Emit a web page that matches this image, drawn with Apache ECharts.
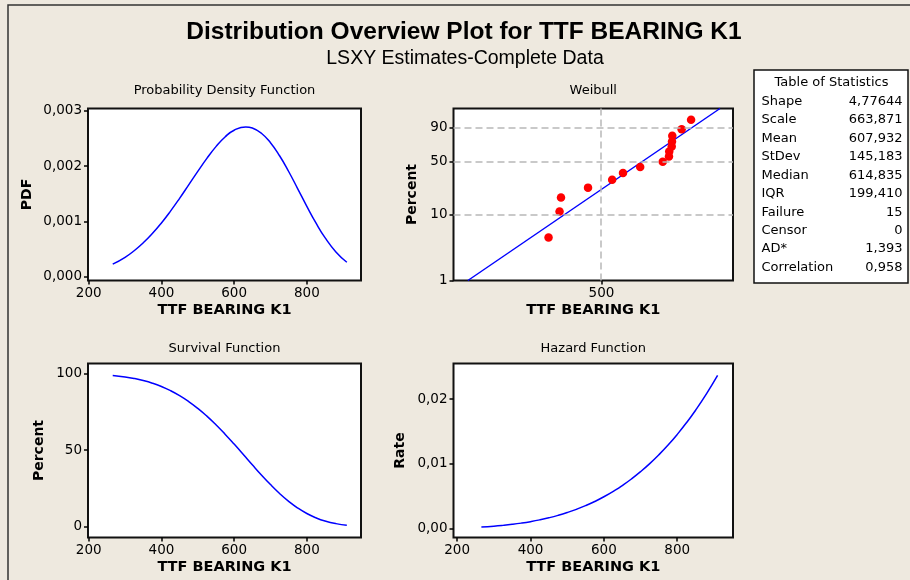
<!DOCTYPE html>
<html><head><meta charset="utf-8">
<script src="https://cdn.jsdelivr.net/npm/echarts@6/dist/echarts.min.js"></script>
<style>html,body{margin:0;padding:0;background:#EEE9DF}#c{width:910px;height:580px}</style>
</head><body><div id="c"></div><script>
// ---- data ----
const timeGrid = [266,300,325,350,375,400,425,450,475,500,525,550,575,600,632,650,675,700,725,750,775,800,825,850,880,910];
const pdfValues = [0.000225,0.000350,0.000469,0.000612,0.000780,0.000972,0.001186,0.001417,0.001660,0.001905,0.002141,0.002353,0.002528,0.002650,0.002710,0.002690,0.002595,0.002424,0.002188,0.001903,0.001590,0.001272,0.000971,0.000705,0.000447,0.000260];
const survivalPercent = [98.74,97.77,96.76,95.41,93.68,91.49,88.80,85.55,81.70,77.24,72.18,66.56,60.45,53.96,45.36,40.49,33.87,27.58,21.81,16.69,12.32,8.74,5.94,3.85,2.14,1.10];
const hazardRate = [0.000228,0.000358,0.000485,0.000641,0.000832,0.001062,0.001335,0.001657,0.002032,0.002467,0.002966,0.003535,0.004181,0.004910,0.005975,0.006643,0.007661,0.008789,0.010034,0.011405,0.012908,0.014552,0.016345,0.018296,0.020857,0.023672];
const failureTimes = [382,404,407,467,528,558,609,683,705,706,715,716,717,752,789];
const failurePercent = [4.55,11.04,17.53,24.03,30.52,37.01,43.51,50.00,56.49,62.99,69.48,75.97,82.47,88.96,95.45];
const fitLineTime = [253.4, 914.0];
const fitLinePercent = [1, 99];
const timeTicks = [200,400,600,800];
const pdfTicks = [0,0.001,0.002,0.003];
const survivalTicks = [0,50,100];
const hazardTicks = [0,0.01,0.02];
const weibullPercentTicks = [1,10,50,90];
const weibullPercentGrid = [10,50,90];
const weibullTimeTicks = [500];
const statLabels = ['Shape','Scale','Mean','StDev','Median','IQR','Failure','Censor','AD*','Correlation'];
const statValues = ['4,77644','663,871','607,932','145,183','614,835','199,410','15','0','1,393','0,958'];
const mainTitle = 'Distribution Overview Plot for TTF BEARING K1';
const subTitle = 'LSXY Estimates-Complete Data';
const panelTitles = ['Probability Density Function','Weibull','Survival Function','Hazard Function'];
const xName = 'TTF BEARING K1';
const yNames = ['PDF','Percent','Percent','Rate'];

// ---- helpers ----
const wb = p => Math.log(-Math.log(1 - p / 100));
const wbInv = v => 100 * (1 - Math.exp(-Math.exp(v)));
const comma = (v, d) => v.toFixed(d).replace('.', ',');
const FONT = 'DejaVu Sans';

const grids = [
  {left: 88, top: 108.5, width: 273, height: 172},
  {left: 453.5, top: 108.5, width: 279.5, height: 172},
  {left: 88, top: 363.5, width: 273, height: 174},
  {left: 453.5, top: 363.5, width: 279.5, height: 174}
];

const labelStyle = (custom, fmt) => ({fontFamily: FONT, fontSize: 13.5, color: '#000', margin: 6, customValues: custom, formatter: fmt, showMinLabel: true, showMaxLabel: true});
const tickStyle = custom => ({show: true, length: 4, inside: false, customValues: custom, lineStyle: {color: '#000', width: 1.5}});
const nameStyle = {fontFamily: FONT, fontWeight: 'bold', fontSize: 14.5, color: '#000'};

function xAxisFor(idx, min, max, ticks, fmt) {
  return {type: 'value', gridIndex: idx, min, max, name: xName, nameLocation: 'middle', nameGap: 22,
    nameTextStyle: nameStyle, axisLine: {show: false, onZero: false}, axisTick: tickStyle(ticks),
    axisLabel: labelStyle(ticks, fmt), splitLine: {show: false}};
}
function yAxisFor(idx, min, max, ticks, fmt, name, gap) {
  return {type: 'value', gridIndex: idx, min, max, name, nameLocation: 'middle', nameGap: gap,
    nameTextStyle: Object.assign({}, nameStyle, {fontSize: 14}), axisLine: {show: false, onZero: false},
    axisTick: tickStyle(ticks), axisLabel: labelStyle(ticks, fmt), splitLine: {show: false}};
}

const blue = {color: '#0000ff', width: 1.5};

const option = {
  backgroundColor: '#EEE9DF',
  animation: false,
  grid: grids.map(g => Object.assign({show: true, backgroundColor: '#fff', borderColor: '#111', borderWidth: 2, containLabel: false}, g)),
  xAxis: [
    xAxisFor(0, 198, 949, timeTicks, v => String(v)),
    xAxisFor(1, Math.log(235.5), Math.log(976.6), weibullTimeTicks.map(Math.log), v => String(Math.round(Math.exp(v)))),
    xAxisFor(2, 198, 949, timeTicks, v => String(v)),
    xAxisFor(3, 190, 952, timeTicks, v => String(v))
  ],
  yAxis: [
    yAxisFor(0, -0.00007, 0.003043, pdfTicks, v => comma(v, 3), yNames[0], 54),
    yAxisFor(1, wb(1), wb(99), weibullPercentTicks.map(wb), v => String(Math.round(wbInv(v))), yNames[1], 34),
    yAxisFor(2, -6.9, 106.5, survivalTicks, v => String(v), yNames[2], 42),
    yAxisFor(3, -0.00139, 0.02552, hazardTicks, v => comma(v, 2), yNames[3], 46)
  ],
  series: [
    {type: 'line', xAxisIndex: 0, yAxisIndex: 0, smooth: true, showSymbol: false, lineStyle: blue,
      data: timeGrid.map((t, i) => [t, pdfValues[i]])},
    {type: 'line', xAxisIndex: 1, yAxisIndex: 1, showSymbol: false, lineStyle: blue, z: 3,
      data: fitLineTime.map((t, i) => [Math.log(t), wb(fitLinePercent[i])]),
      markLine: {silent: true, symbol: 'none', label: {show: false},
        lineStyle: {color: '#b8b8b8', width: 1.5, type: [7, 4]},
        data: weibullTimeTicks.map(t => ({xAxis: Math.log(t)})).concat(weibullPercentGrid.map(p => ({yAxis: wb(p)})))}},
    {type: 'scatter', xAxisIndex: 1, yAxisIndex: 1, symbolSize: 8.5, z: 4, itemStyle: {color: '#ff0000', opacity: 1},
      data: failureTimes.map((t, i) => [Math.log(t), wb(failurePercent[i])])},
    {type: 'line', xAxisIndex: 2, yAxisIndex: 2, smooth: true, showSymbol: false, lineStyle: blue,
      data: timeGrid.map((t, i) => [t, survivalPercent[i]])},
    {type: 'line', xAxisIndex: 3, yAxisIndex: 3, smooth: true, showSymbol: false, lineStyle: blue,
      data: timeGrid.map((t, i) => [t, hazardRate[i]])}
  ],
  graphic: []
};

// frame, titles, panel titles, statistics table
const gfx = option.graphic;
gfx.push({type: 'rect', shape: {x: 8, y: 5, width: 920, height: 600}, style: {fill: 'none', stroke: '#333', lineWidth: 1.5}, silent: true});
gfx.push({type: 'text', x: 464, y: 32, style: {text: mainTitle, fill: '#000', fontFamily: 'Liberation Sans', fontWeight: 'bold', fontSize: 24.5, align: 'center', verticalAlign: 'middle'}});
gfx.push({type: 'text', x: 465, y: 59, style: {text: subTitle, fill: '#000', fontFamily: 'Liberation Sans', fontSize: 19.5, align: 'center', verticalAlign: 'middle'}});
panelTitles.forEach((t, i) => {
  const g = grids[i];
  gfx.push({type: 'text', x: g.left + g.width / 2, y: i < 2 ? 91 : 348.5,
    style: {text: t, fill: '#000', fontFamily: FONT, fontSize: 13, align: 'center', verticalAlign: 'middle'}});
});
gfx.push({type: 'rect', shape: {x: 754, y: 70, width: 154, height: 213}, style: {fill: '#fff', stroke: '#111', lineWidth: 1.5}, silent: true});
gfx.push({type: 'text', x: 831.5, y: 82.5, style: {text: 'Table of Statistics', fill: '#000', fontFamily: FONT, fontSize: 13, align: 'center', verticalAlign: 'middle'}});
statLabels.forEach((l, i) => {
  const y = 101.5 + i * 18.45;
  gfx.push({type: 'text', x: 761.5, y, style: {text: l, fill: '#000', fontFamily: FONT, fontSize: 13, align: 'left', verticalAlign: 'middle'}});
  gfx.push({type: 'text', x: 902.5, y, style: {text: statValues[i], fill: '#000', fontFamily: FONT, fontSize: 13, align: 'right', verticalAlign: 'middle'}});
});

const chart = echarts.init(document.getElementById('c'), null, {renderer: 'canvas'});
chart.setOption(option);
</script></body></html>
